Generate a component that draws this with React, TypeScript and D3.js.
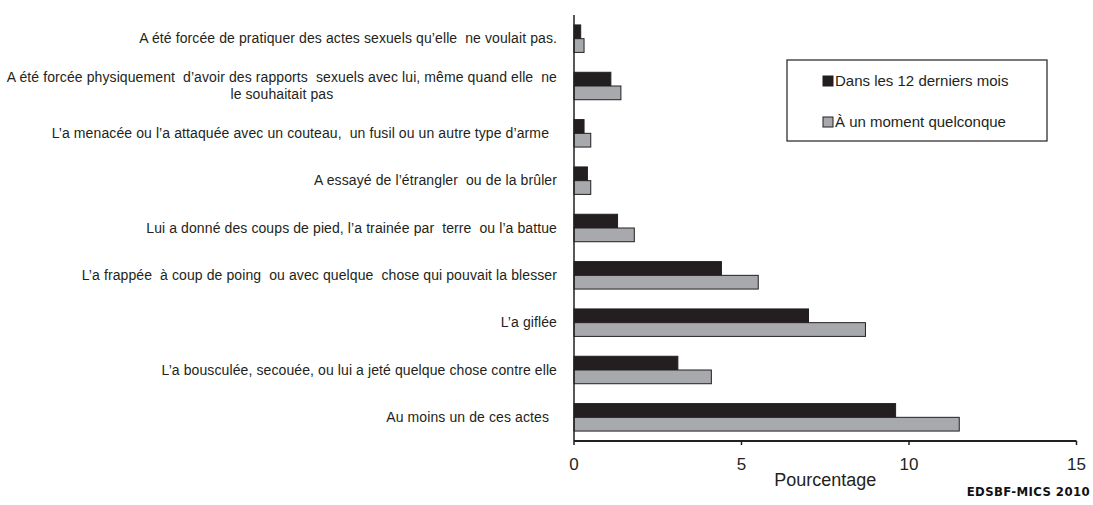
import React, { useEffect, useRef } from "react";
import * as d3 from "d3";

const categories: string[][] = [
  ["A été forcée de pratiquer des actes sexuels qu’elle  ne voulait pas."],
  ["A été forcée physiquement  d’avoir des rapports  sexuels avec lui, même quand elle  ne", "le souhaitait pas"],
  ["L’a menacée ou l’a attaquée avec un couteau,  un fusil ou un autre type d’arme  "],
  ["A essayé de l’étrangler  ou de la brûler"],
  ["Lui a donné des coups de pied, l’a trainée par  terre  ou l’a battue"],
  ["L’a frappée  à coup de poing  ou avec quelque  chose qui pouvait la blesser"],
  ["L’a giflée"],
  ["L’a bousculée, secouée, ou lui a jeté quelque chose contre elle"],
  ["Au moins un de ces actes  "],
];
const last12Months: number[] = [0.2, 1.1, 0.3, 0.4, 1.3, 4.4, 7.0, 3.1, 9.6];
const everTime: number[] = [0.3, 1.4, 0.5, 0.5, 1.8, 5.5, 8.7, 4.1, 11.5];
const seriesNames: string[] = ["Dans les 12 derniers mois", "À un moment quelconque"];
const xTicks: number[] = [0, 5, 10, 15];
const xTitle = "Pourcentage";
const source = "EDSBF-MICS 2010";

const W = 1093;
const H = 505;
const DARK = "#231f20";
const GREY = "#a7a9ac";
const FONT = "'Liberation Sans', Arial, sans-serif";

export default function App() {
  const ref = useRef<SVGSVGElement>(null);

  useEffect(() => {
    const svg = d3.select(ref.current);
    svg.selectAll("*").remove();

    const left = 574;
    const right = 1076.5;
    const top = 15;
    const bottom = 441;

    const keys = categories.map((_, i) => String(i));
    const x = d3.scaleLinear().domain([0, 15]).range([left, right]);
    const y = d3.scaleBand<string>().domain(keys).range([top, bottom]).paddingInner(0.42).paddingOuter(0.21);
    const ySub = d3.scaleBand<string>().domain(["a", "b"]).range([0, y.bandwidth()]);

    const series = [
      { key: "a", values: last12Months, fill: DARK },
      { key: "b", values: everTime, fill: GREY },
    ];

    // bars
    series.forEach((s) => {
      svg
        .append("g")
        .selectAll("rect")
        .data(s.values)
        .join("rect")
        .attr("x", x(0))
        .attr("y", (_, i) => (y(keys[i]) as number) + (ySub(s.key) as number))
        .attr("width", (d) => x(d) - x(0))
        .attr("height", ySub.bandwidth())
        .attr("fill", s.fill)
        .attr("stroke", DARK)
        .attr("stroke-width", 1);
    });

    // axes
    svg
      .append("line")
      .attr("x1", left)
      .attr("x2", left)
      .attr("y1", top)
      .attr("y2", bottom)
      .attr("stroke", DARK)
      .attr("stroke-width", 1.5);
    svg
      .append("line")
      .attr("x1", left)
      .attr("x2", right)
      .attr("y1", bottom)
      .attr("y2", bottom)
      .attr("stroke", DARK)
      .attr("stroke-width", 1.8);

    const tg = svg.append("g");
    tg.selectAll("line")
      .data(xTicks)
      .join("line")
      .attr("x1", (d) => x(d))
      .attr("x2", (d) => x(d))
      .attr("y1", bottom)
      .attr("y2", bottom + 4)
      .attr("stroke", DARK)
      .attr("stroke-width", 1.5);
    tg.selectAll("text")
      .data(xTicks)
      .join("text")
      .attr("x", (d) => x(d))
      .attr("y", 470)
      .attr("text-anchor", "middle")
      .attr("font-family", FONT)
      .attr("font-size", 17)
      .attr("fill", DARK)
      .text((d) => String(d));

    svg
      .append("text")
      .attr("x", (left + right) / 2)
      .attr("y", 486)
      .attr("text-anchor", "middle")
      .attr("font-family", FONT)
      .attr("font-size", 18)
      .attr("fill", DARK)
      .text(xTitle);

    // category labels
    const labelRight = 557;
    const lg = svg.append("g");
    categories.forEach((lines, i) => {
      const cy = (y(keys[i]) as number) + y.bandwidth() / 2;
      const lineH = 17;
      const startY = cy - ((lines.length - 1) * lineH) / 2 + 4.5;
      const first = lg
        .append("text")
        .attr("x", labelRight)
        .attr("y", startY)
        .attr("text-anchor", "end")
        .attr("font-family", FONT)
        .attr("font-size", 14)
        .attr("letter-spacing", 0.1)
        .attr("fill", DARK)
        .style("white-space", "pre")
        .text(lines[0]);
      if (lines.length > 1) {
        const w = (first.node() as SVGTextElement).getComputedTextLength();
        for (let k = 1; k < lines.length; k++) {
          lg.append("text")
            .attr("x", labelRight - w / 2)
            .attr("y", startY + k * lineH)
            .attr("text-anchor", "middle")
            .attr("font-family", FONT)
            .attr("font-size", 14)
            .attr("letter-spacing", 0.1)
            .attr("fill", DARK)
            .style("white-space", "pre")
            .text(lines[k]);
        }
      }
    });

    // legend
    const leg = svg.append("g");
    leg
      .append("rect")
      .attr("x", 787)
      .attr("y", 60)
      .attr("width", 260)
      .attr("height", 81)
      .attr("fill", "white")
      .attr("stroke", DARK)
      .attr("stroke-width", 1.2);
    series.forEach((s, i) => {
      const yy = 76 + i * 41;
      leg
        .append("rect")
        .attr("x", 823)
        .attr("y", yy)
        .attr("width", 10)
        .attr("height", 10)
        .attr("fill", s.fill)
        .attr("stroke", DARK)
        .attr("stroke-width", 1);
      leg
        .append("text")
        .attr("x", 835)
        .attr("y", yy + 10)
        .attr("font-family", FONT)
        .attr("font-size", 15)
        .attr("fill", DARK)
        .text(seriesNames[i]);
    });

    svg
      .append("text")
      .attr("x", 1090)
      .attr("y", 496)
      .attr("text-anchor", "end")
      .attr("font-family", "'DejaVu Sans Condensed', 'DejaVu Sans', sans-serif")
      .attr("font-stretch", "condensed")
      .attr("font-weight", "bold")
      .attr("font-size", 13)
      .attr("letter-spacing", 0.4)
      .attr("fill", "#111")
      .text(source);
  }, []);

  return (
    <svg
      ref={ref}
      width={W}
      height={H}
      style={{ position: "absolute", left: 0, top: 0, background: "white" }}
    />
  );
}
